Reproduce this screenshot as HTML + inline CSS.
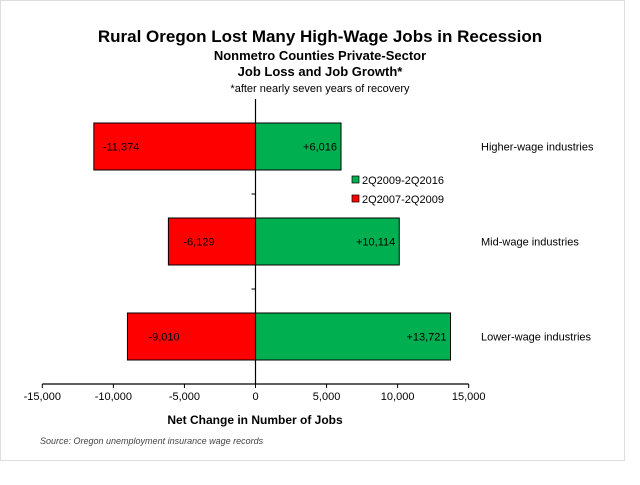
<!DOCTYPE html>
<html><head><meta charset="utf-8"><style>
body{margin:0;background:#fff;font-family:"Liberation Sans",Arial,sans-serif}
svg text{font-family:"Liberation Sans",Arial,sans-serif}
</style></head><body>
<svg id="c" width="640" height="480" xmlns="http://www.w3.org/2000/svg">
<rect x="0.5" y="0.5" width="624" height="460" fill="#fff" stroke="#ddd"/>
<text x="320" y="42" text-anchor="middle" font-size="17" font-weight="bold">Rural Oregon Lost Many High-Wage Jobs in Recession</text>
<text x="320" y="60" text-anchor="middle" font-size="13" font-weight="bold">Nonmetro Counties Private-Sector</text>
<text x="320" y="76" text-anchor="middle" font-size="13" font-weight="bold">Job Loss and Job Growth*</text>
<text x="320" y="92" text-anchor="middle" font-size="11">*after nearly seven years of recovery</text>
<g id="plot"></g>
<text x="255" y="424" text-anchor="middle" font-size="12" font-weight="bold">Net Change in Number of Jobs</text>
<rect x="352" y="176" width="7" height="7" fill="#00b050" stroke="#000" stroke-width="0.7"/>
<text x="362" y="184" font-size="11">2Q2009-2Q2016</text>
<rect x="352" y="195" width="7" height="7" fill="#f00" stroke="#000" stroke-width="0.7"/>
<text x="362" y="203" font-size="11">2Q2007-2Q2009</text>
<text x="40" y="444" font-size="9" font-style="italic" fill="#444">Source: Oregon unemployment insurance wage records</text>
</svg>
<script>
const categories=["Higher-wage industries","Mid-wage industries","Lower-wage industries"];
const lossValues=[-11374,-6129,-9010];
const gainValues=[6016,10114,13721];
const lossLabels=["-11,374","-6,129","-9,010"];
const gainLabels=["+6,016","+10,114","+13,721"];
const xTicks=[-15000,-10000,-5000,0,5000,10000,15000];
const xTickLabels=["-15,000","-10,000","-5,000","0","5,000","10,000","15,000"];
const NS="http://www.w3.org/2000/svg";
const g=document.getElementById('plot');
const X0=42.3,X1=468.7,XMIN=-15000,XMAX=15000,YT=99,YB=384;
const x=v=>X0+(v-XMIN)/(XMAX-XMIN)*(X1-X0);
const band=(YB-YT)/categories.length;
const yc=i=>YT+band*(i+0.5);
function mk(t,a){const e=document.createElementNS(NS,t);for(const k in a)e.setAttribute(k,a[k]);g.appendChild(e);return e;}
categories.forEach((c,i)=>{
  const h=47,y=yc(i)-h/2;
  let r=mk('rect',{x:x(lossValues[i]),y:y,width:x(0)-x(lossValues[i]),height:h,fill:'#ff0000',stroke:'#000','stroke-width':1});
  
  
  r=mk('rect',{x:x(0),y:y,width:x(gainValues[i])-x(0),height:h,fill:'#00b050',stroke:'#000','stroke-width':1});
  
  
  let t=mk('text',{x:x(lossValues[i])+9+i*6,y:yc(i)+4,'text-anchor':'start','font-size':11});
  t.textContent=lossLabels[i];
  
  
  t=mk('text',{x:x(gainValues[i])-4,y:yc(i)+4,'text-anchor':'end','font-size':11});
  t.textContent=gainLabels[i];
  
  
  t=mk('text',{x:481,y:yc(i)+4,'font-size':11});
  t.textContent=c;
  
  
  if(i>0){let l=mk('line',{x1:x(0)-4,x2:x(0),y1:YT+band*i,y2:YT+band*i,stroke:'#000'});
  
  }
});
let ax=mk('line',{x1:x(0),x2:x(0),y1:YT,y2:YB,stroke:'#000','stroke-width':1.2});


ax=mk('line',{x1:X0,x2:X1,y1:YB,y2:YB,stroke:'#000','stroke-width':1.2});


xTicks.forEach((v,i)=>{
  const l=mk('line',{x1:x(v),x2:x(v),y1:YB,y2:YB+4,stroke:'#000'});
  
  
  const t=mk('text',{x:x(v),y:YB+16,'text-anchor':'middle','font-size':11});
  t.textContent=xTickLabels[i];
  
  
});
</script>
</body></html>
